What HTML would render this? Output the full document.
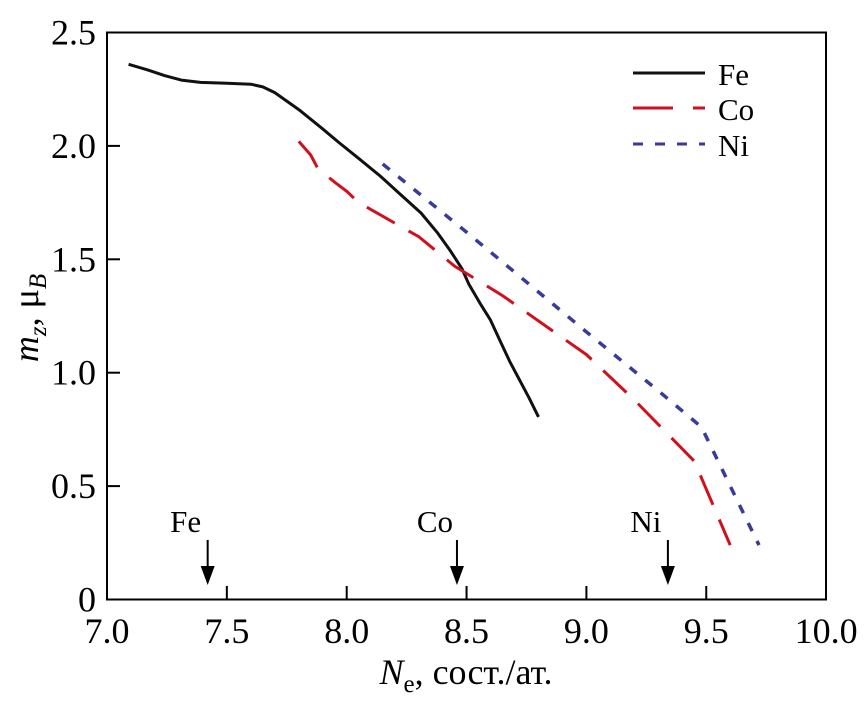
<!DOCTYPE html>
<html><head><meta charset="utf-8"><style>
body{margin:0;background:#fff}
text,tspan{font-family:"Liberation Serif","Times New Roman",Times,serif !important;}
</style></head><body>
<svg id="chart" width="866" height="701" xmlns="http://www.w3.org/2000/svg">
<rect x="107" y="32.5" width="719" height="567" fill="none" stroke="#000" stroke-width="2"/>
<g id="ticks"></g>
<g id="series"></g>
<g>
<line x1="633" y1="73" x2="705" y2="73" stroke="#111" stroke-width="3"/>
<text x="718" y="85" font-size="31">Fe</text>
<line x1="633" y1="108" x2="705" y2="108" stroke="#d0101c" stroke-width="3" stroke-dasharray="40,20"/>
<text x="718" y="120" font-size="31">Co</text>
<line x1="633" y1="144" x2="705" y2="144" stroke="#3a3a9a" stroke-width="3" stroke-dasharray="10,12"/>
<text x="718" y="156" font-size="31">Ni</text>
</g>
<text transform="translate(38,318) rotate(-90)" text-anchor="middle" font-size="36"><tspan font-style="italic">m</tspan><tspan font-style="italic" font-size="25" dy="8">z</tspan><tspan dy="-8">, μ</tspan><tspan font-style="italic" font-size="25" dy="8">B</tspan></text>
<text x="466" y="684" text-anchor="middle" font-size="36"><tspan font-style="italic">N</tspan><tspan font-size="25" dy="8">e</tspan><tspan dy="-8">, сост./ат.</tspan></text>
</svg>
<script>
const xTicks=[7.0,7.5,8.0,8.5,9.0,9.5,10.0];
const xTickLabels=["7.0","7.5","8.0","8.5","9.0","9.5","10.0"];
const yTicks=[0,0.5,1.0,1.5,2.0,2.5];
const yTickLabels=["0","0.5","1.0","1.5","2.0","2.5"];
const feN=[7.09,7.17,7.24,7.31,7.39,7.5,7.6,7.65,7.7,7.8,7.9,7.97,8.05,8.14,8.22,8.31,8.38,8.43,8.48,8.51,8.56,8.6,8.64,8.68,8.72,8.76,8.8];
const feM=[2.36,2.335,2.31,2.29,2.28,2.276,2.272,2.26,2.235,2.16,2.075,2.013,1.945,1.867,1.79,1.704,1.615,1.541,1.46,1.39,1.3,1.232,1.14,1.05,0.97,0.89,0.805];
const coN=[7.8,7.85,7.88,7.95,8.0,8.05,8.1,8.2,8.3,8.45,8.65,9.0,9.2,9.45,9.6];
const coM=[2.02,1.96,1.9,1.84,1.8,1.75,1.72,1.66,1.6,1.47,1.34,1.08,0.88,0.61,0.24];
const niN=[8.15,8.5,9.0,9.3,9.48,9.72];
const niM=[1.92,1.62,1.18,0.92,0.76,0.24];
const markerNames=["Fe","Co","Ni"];
const markerN=[7.42,8.46,9.34];
const NS="http://www.w3.org/2000/svg";
const X=v=>107+(v-7)*239.7, Y=v=>599.5-v*226.8;
const tg=document.getElementById('ticks'), sg=document.getElementById('series');
function mk(t,a,p){const e=document.createElementNS(NS,t);for(const k in a)e.setAttribute(k,a[k]);p.appendChild(e);return e;}
xTicks.forEach((v,i)=>{
 if(i>0&&i<xTicks.length-1){const l=mk('line',{x1:X(v),x2:X(v),y1:599.5,y2:586,stroke:'#000','stroke-width':2},tg);
 
 }
 const t=mk('text',{x:X(v),y:643,'text-anchor':'middle','font-size':36},tg);t.textContent=xTickLabels[i];
 
 
});
yTicks.forEach((v,i)=>{
 if(i>0&&i<yTicks.length-1){const l=mk('line',{x1:107,x2:120,y1:Y(v),y2:Y(v),stroke:'#000','stroke-width':2},tg);
 
 }
 const t=mk('text',{x:96,y:Y(v)+12,'text-anchor':'end','font-size':36},tg);t.textContent=yTickLabels[i];
 
 
});
function pts(a,b){return a.map((v,i)=>X(v).toFixed(1)+','+Y(b[i]).toFixed(1)).join(' ');}
const fe=mk('polyline',{points:pts(feN,feM),fill:'none',stroke:'#111','stroke-width':3,'stroke-linejoin':'round'},sg);


const co=mk('polyline',{points:pts(coN,coM),fill:'none',stroke:'#d0101c','stroke-width':3,'stroke-dasharray':'32,16'},sg);


const ni=mk('polyline',{points:pts(niN,niM),fill:'none',stroke:'#3a3a9a','stroke-width':3.5,'stroke-dasharray':'9,11'},sg);


markerN.forEach((v,i)=>{
 const x=X(v);
 const g=mk('g',{},sg);
 
 
 mk('line',{x1:x,x2:x,y1:540,y2:572,stroke:'#000','stroke-width':2},g);
 mk('polygon',{points:`${x-7},566 ${x+7},566 ${x},585`,fill:'#000'},g);
 const t=mk('text',{x:x-22,y:532,'text-anchor':'middle','font-size':31},g);t.textContent=markerNames[i];
});
</script>
</body></html>
